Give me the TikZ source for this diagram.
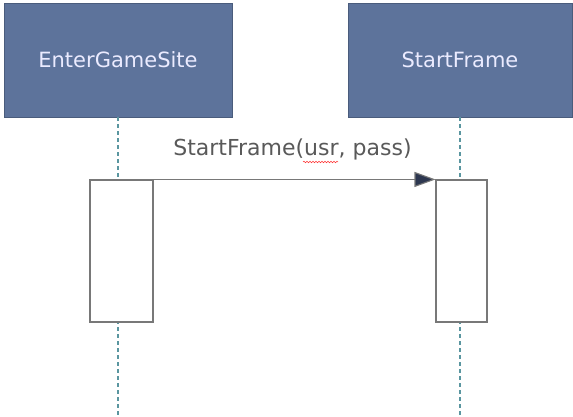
\documentclass[tikz,border=0pt]{standalone}
\usepackage{fontspec}
\setmainfont{DejaVu Sans}
\usetikzlibrary{arrows.meta,decorations.pathmorphing}
\definecolor{hdr}{RGB}{93,115,155}
\definecolor{life}{RGB}{90,150,160}
\definecolor{actline}{RGB}{120,120,120}
\definecolor{tip}{RGB}{45,55,80}
\begin{document}
\begin{tikzpicture}[x=1pt,y=-1pt,
  header/.style={draw=hdr!80!black,fill=hdr,text=white!92!blue,font=\fontsize{21}{24}\selectfont,inner sep=0pt},
  activation/.style={draw=actline,fill=white,line width=1.1pt,inner sep=0pt},
  lifeline/.style={draw=life,dashed,dash pattern=on 4pt off 3pt,line width=1.2pt},
  msg/.style={draw=actline,line width=1.1pt,-{Triangle[length=21pt,width=15pt,fill=tip]}}]
\useasboundingbox (0,0) rectangle (573,417);
\fill[white] (0,0) rectangle (573,417);
% headers
\node[header,minimum width=228pt,minimum height=114pt] (h1) at (118,60) {EnterGameSite};
\node[header,minimum width=224pt,minimum height=114pt] (h2) at (460,60) {StartFrame};
% lifelines
\coordinate (l1bot) at (118,417);
\coordinate (l2bot) at (460,417);
\draw[lifeline] (h1.south) -- (l1bot);
\draw[lifeline] (h2.south) -- (l2bot);
% activations
\node[activation,minimum width=63pt,minimum height=142pt] (a1) at (121.5,251) {};
\node[activation,minimum width=51pt,minimum height=142pt] (a2) at (461.5,251) {};
% message
\draw[msg] (a1.north east) -- (a2.north west);
\node[font=\fontsize{22}{24}\selectfont,text=black!65] (lbl) at (292.5,149) {StartFrame(usr, pass)};
\coordinate (sq1) at (303,162);
\coordinate (sq2) at (338,162);
\draw[red!80,line width=0.5pt,decorate,decoration={snake,amplitude=0.8pt,segment length=3pt}] (sq1) -- (sq2);
\end{tikzpicture}
\end{document}
